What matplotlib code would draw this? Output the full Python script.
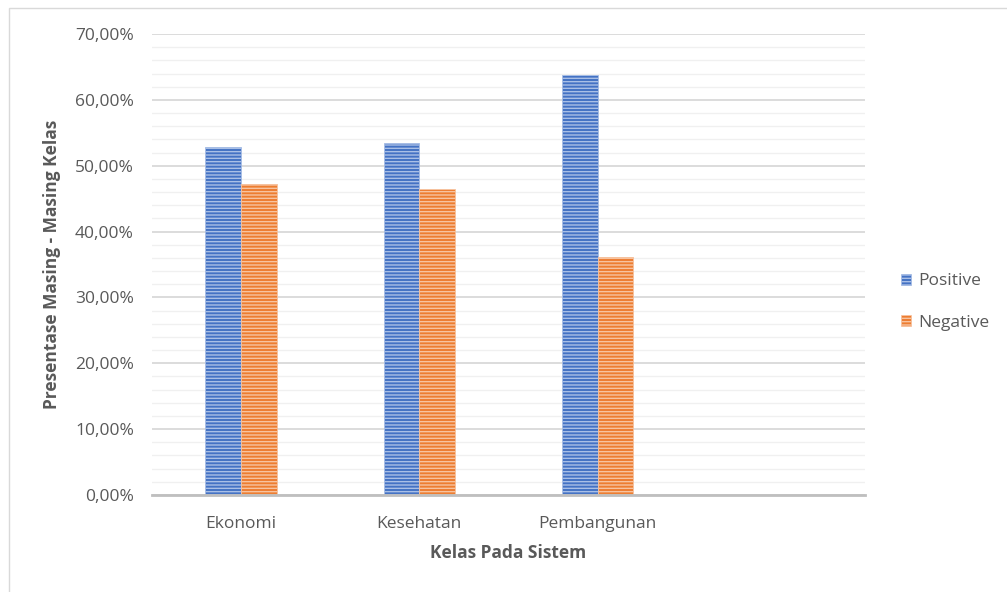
import matplotlib
matplotlib.use("Agg")
import matplotlib.pyplot as plt
import numpy as np
from matplotlib.ticker import MultipleLocator, FuncFormatter
from matplotlib.patches import Rectangle, Patch

categories = ["Ekonomi", "Kesehatan", "Pembangunan", ""]
positive = [52.8, 53.5, 63.8, np.nan]
negative = [47.2, 46.5, 36.2, np.nan]
series_names = ["Positive", "Negative"]

plt.rcParams['font.family'] = ['Open Sans', 'DejaVu Sans']
plt.rcParams['hatch.linewidth'] = 1.0

W, H = 1007, 592
fig = plt.figure(figsize=(W/100, H/100), dpi=100)
ax = fig.add_axes([152/W, 1-495/H, (865-152)/W, (495-34)/H])

# outer frame
fig.patches.append(Rectangle((9/W, -0.1), 1.2, 1-8/H+0.1, transform=fig.transFigure,
                             fill=False, edgecolor='#D9D9D9', linewidth=1.0, zorder=0))

x = np.arange(len(categories))
bw = 0.2
blue, orange = '#4472C4', '#ED7D31'
blue_l, orange_l = '#A9BFE6', '#F7C3A0'
ax.bar(x - bw/2, [v/100 for v in positive], bw, color=blue, edgecolor=blue_l,
       hatch='-----', linewidth=0.6, zorder=3)
ax.bar(x + bw/2, [v/100 for v in negative], bw, color=orange, edgecolor=orange_l,
       hatch='-----', linewidth=0.6, zorder=3)

ax.set_xlim(-0.5, len(categories) - 0.5)
ax.set_ylim(0, 0.70)
ax.yaxis.set_major_locator(MultipleLocator(0.10))
ax.yaxis.set_minor_locator(MultipleLocator(0.02))
ax.yaxis.set_major_formatter(FuncFormatter(lambda v, p: f"{v*100:.2f}%".replace('.', ',')))
ax.grid(True, which='major', axis='y', color='#D9D9D9', linewidth=1.3, zorder=0)
ax.grid(True, which='minor', axis='y', color='#F0F0F0', linewidth=1.0, zorder=0)
ax.set_axisbelow(True)
for s in ['top', 'right', 'left']:
    ax.spines[s].set_visible(False)
ax.spines['bottom'].set_color('#BFBFBF')
ax.spines['bottom'].set_linewidth(2.0)
ax.spines['bottom'].set_zorder(4)
ax.tick_params(axis='both', which='both', length=0, labelsize=12.5, labelcolor='#595959')
ax.tick_params(axis='y', pad=13)
ax.tick_params(axis='x', pad=15)
ax.set_xticks(x)
ax.set_xticklabels(categories)

ax.set_ylabel("Presentase Masing - Masing Kelas", fontsize=12.5, fontweight='bold',
              color='#595959', labelpad=10)
ax.set_xlabel("Kelas Pada Sistem", fontsize=12.5, fontweight='bold', color='#595959',
              labelpad=9)

handles = [Patch(facecolor=blue, edgecolor=blue_l, hatch='-----', linewidth=0.5),
           Patch(facecolor=orange, edgecolor=orange_l, hatch='-----', linewidth=0.5)]
leg = fig.legend(handles, series_names, loc='center left', bbox_to_anchor=(885/W, 1-302/H),
                 frameon=False, fontsize=12.5, labelspacing=1.45, handlelength=0.6,
                 handleheight=0.6, handletextpad=0.4, labelcolor='#595959')

fig.savefig("out.png", dpi=100)
